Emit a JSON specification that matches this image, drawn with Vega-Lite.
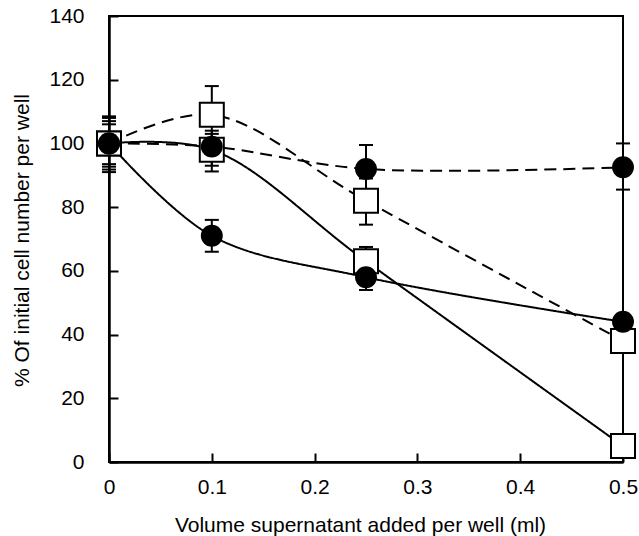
{
  "$schema": "https://vega.github.io/schema/vega-lite/v6.json",
  "width": 514,
  "height": 446,
  "autosize": {"type": "none"},
  "padding": {"left": 109, "top": 16, "right": 16, "bottom": 74},
  "background": "white",
  "config": {
    "view": {"stroke": "black", "strokeWidth": 2},
    "font": "Liberation Sans"
  },
  "data": {
    "values": [
      {"s": "A", "st": "solid", "mk": "circle", "x": 0, "y": 100, "lo": 93.5, "hi": 106},
      {"s": "A", "st": "solid", "mk": "circle", "x": 0.1, "y": 71, "lo": 66, "hi": 76},
      {"s": "A", "st": "solid", "mk": "circle", "x": 0.25, "y": 58, "lo": 54, "hi": 62},
      {"s": "A", "st": "solid", "mk": "circle", "x": 0.5, "y": 44, "lo": 43, "hi": 45},
      {"s": "B", "st": "solid", "mk": "square", "x": 0, "y": 100, "lo": 92.7, "hi": 107},
      {"s": "B", "st": "solid", "mk": "square", "x": 0.1, "y": 98, "lo": 93, "hi": 103},
      {"s": "B", "st": "solid", "mk": "square", "x": 0.25, "y": 63, "lo": 59, "hi": 67.5},
      {"s": "B", "st": "solid", "mk": "square", "x": 0.5, "y": 5, "lo": 4, "hi": 6},
      {"s": "C", "st": "dashed", "mk": "circle", "x": 0, "y": 100, "lo": 91.8, "hi": 108},
      {"s": "C", "st": "dashed", "mk": "circle", "x": 0.1, "y": 99, "lo": 91.2, "hi": 104},
      {"s": "C", "st": "dashed", "mk": "circle", "x": 0.25, "y": 92, "lo": 85, "hi": 99.5},
      {"s": "C", "st": "dashed", "mk": "circle", "x": 0.5, "y": 92.5, "lo": 85.5, "hi": 100},
      {"s": "D", "st": "dashed", "mk": "square", "x": 0, "y": 100, "lo": 91, "hi": 108.5},
      {"s": "D", "st": "dashed", "mk": "square", "x": 0.1, "y": 109, "lo": 100, "hi": 118},
      {"s": "D", "st": "dashed", "mk": "square", "x": 0.25, "y": 82, "lo": 74.5, "hi": 89},
      {"s": "D", "st": "dashed", "mk": "square", "x": 0.5, "y": 38, "lo": 37, "hi": 39}
    ]
  },
  "encoding": {
    "x": {
      "field": "x",
      "type": "quantitative",
      "scale": {"domain": [0, 0.5], "nice": false, "zero": false},
      "axis": {
        "values": [0, 0.1, 0.2, 0.3, 0.4, 0.5],
        "format": "~g",
        "title": "Volume supernatant added per well (ml)",
        "titleFont": "Liberation Sans",
        "titleFontSize": 21,
        "titleFontWeight": "normal",
        "titleColor": "black",
        "titleX": 251,
        "titleY": 69,
        "titleBaseline": "alphabetic",
        "labelFont": "Liberation Sans",
        "labelFontSize": 21,
        "labelColor": "black",
        "labelPadding": 23,
        "labelFlush": false,
        "tickSize": -9,
        "tickWidth": 2,
        "tickColor": "black",
        "domainColor": "black",
        "domainWidth": 2.5,
        "grid": false
      }
    }
  },
  "layer": [
    {
      "mark": {"type": "rule", "color": "black", "strokeWidth": 2},
      "encoding": {
        "y": {"field": "lo", "type": "quantitative"},
        "y2": {"field": "hi"}
      }
    },
    {
      "mark": {"type": "tick", "orient": "horizontal", "color": "black", "size": 14, "thickness": 2, "opacity": 1},
      "encoding": {"y": {"field": "lo", "type": "quantitative"}}
    },
    {
      "mark": {"type": "tick", "orient": "horizontal", "color": "black", "size": 14, "thickness": 2, "opacity": 1},
      "encoding": {"y": {"field": "hi", "type": "quantitative"}}
    },
    {
      "mark": {"type": "line", "interpolate": "catmull-rom", "color": "black", "strokeWidth": 2},
      "encoding": {
        "y": {
          "field": "y",
          "type": "quantitative",
          "scale": {"domain": [0, 140], "nice": false},
          "axis": {
            "values": [0, 20, 40, 60, 80, 100, 120, 140],
            "title": "% Of initial cell number per well",
            "titleFont": "Liberation Sans",
            "titleFontSize": 21,
            "titleFontWeight": "normal",
            "titleColor": "black",
            "titleX": -81,
            "titleY": 224,
            "titleAngle": -90,
            "titleAlign": "center",
            "titleBaseline": "alphabetic",
            "labelFont": "Liberation Sans",
            "labelFontSize": 21,
            "labelColor": "black",
            "labelPadding": 34,
            "labelFlush": false,
            "tickSize": -9,
            "tickWidth": 2,
            "tickColor": "black",
            "domainColor": "black",
            "domainWidth": 2.5,
            "grid": false
          }
        },
        "detail": {"field": "s"},
        "strokeDash": {
          "field": "st",
          "type": "nominal",
          "scale": {"domain": ["solid", "dashed"], "range": [[1, 0], [12, 7]]},
          "legend": null
        }
      }
    },
    {
      "transform": [{"filter": "datum.mk === 'square'"}],
      "mark": {"type": "point", "shape": "square", "filled": true, "fill": "white", "stroke": "black", "strokeWidth": 2, "size": 576, "opacity": 1},
      "encoding": {"y": {"field": "y", "type": "quantitative"}}
    },
    {
      "transform": [{"filter": "datum.mk === 'circle'"}],
      "mark": {"type": "circle", "color": "black", "size": 480, "opacity": 1},
      "encoding": {"y": {"field": "y", "type": "quantitative"}}
    }
  ]
}
